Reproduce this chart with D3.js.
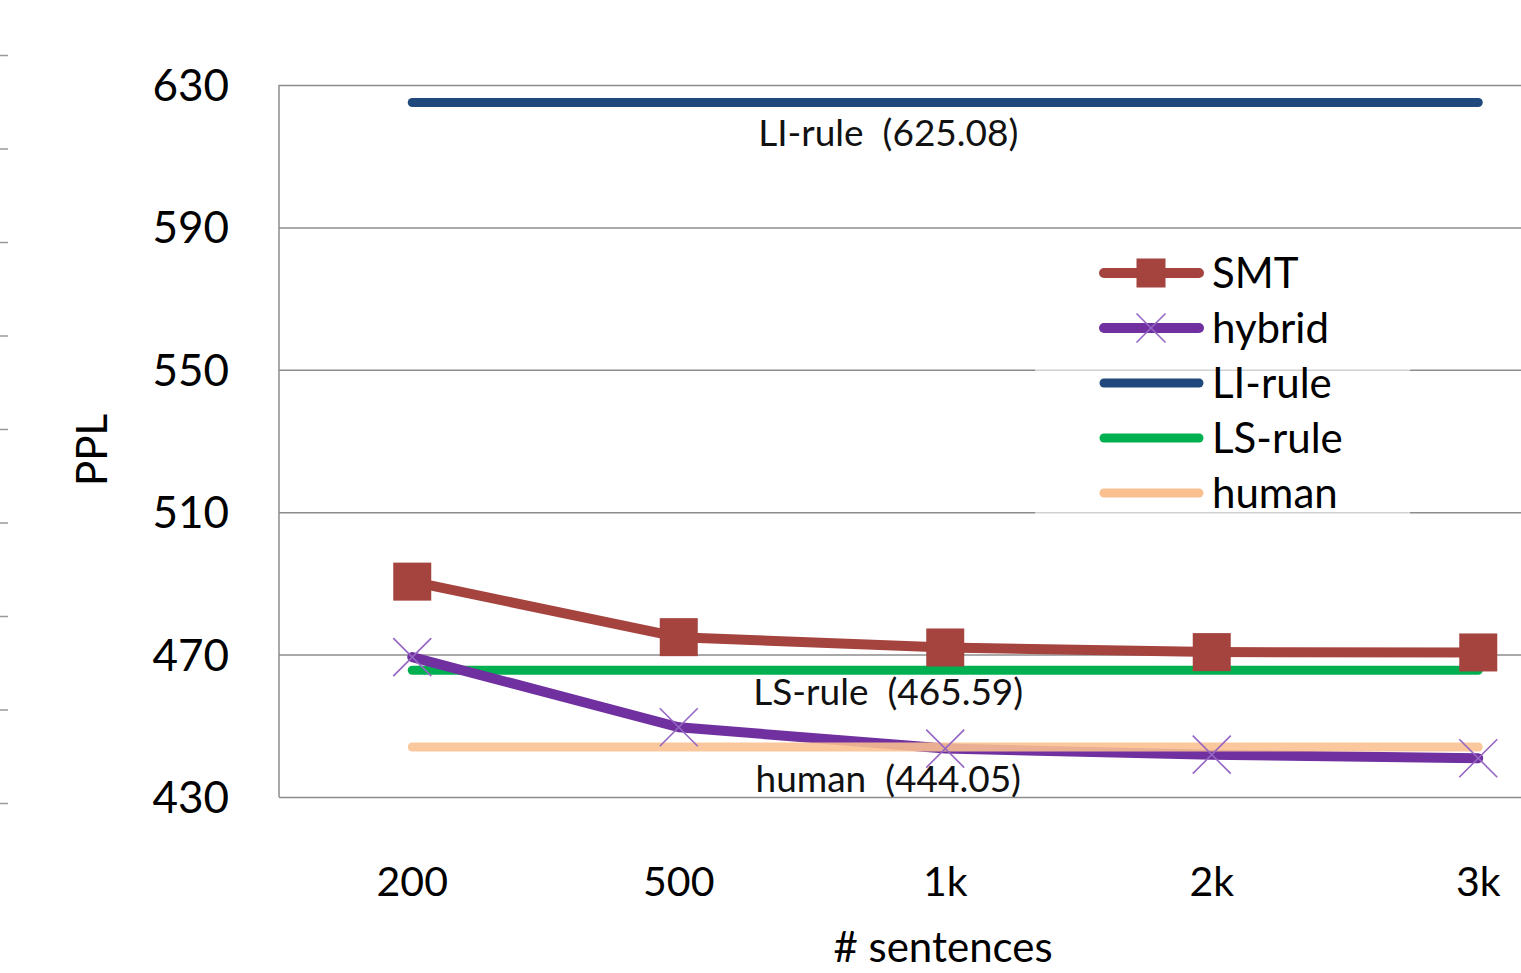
<!DOCTYPE html>
<html>
<head>
<meta charset="utf-8">
<script src="https://cdn.jsdelivr.net/npm/d3@7"></script>
<style>
  html, body { margin: 0; padding: 0; background: #fff; }
  svg { display: block; font-family: Lato, "Noto Sans", sans-serif; }
</style>
</head>
<body>
<svg id="chart" width="1521" height="973"></svg>
<script>
// Perplexity vs. number of training sentences
const categories = ["200", "500", "1k", "2k", "3k"];
const smt    = [490.5, 474.9, 472.0, 470.7, 470.6];
const hybrid = [469.3, 449.6, 443.6, 441.9, 440.9];
const liRule = 625.08;
const lsRule = 465.59;
const human  = 444.05;
const yTicks = [430, 470, 510, 550, 590, 630];

const series = [
  { name: "SMT",     values: smt,                          color: "#A5433E", width: 10, marker: "square" },
  { name: "hybrid",  values: hybrid,                       color: "#7030A0", width: 10, marker: "x" },
  { name: "LI-rule", values: categories.map(() => liRule), color: "#1F497D", width: 9 },
  { name: "LS-rule", values: categories.map(() => lsRule), color: "#00B050", width: 9 },
  { name: "human",   values: categories.map(() => human),  color: "#FAC090", width: 9 }
];

const svg = d3.select("#chart");

const plotLeft = 279, plotTop = 85, plotBottom = 797;
const step = 266.5;

const x = d3.scaleBand()
  .domain(categories)
  .range([plotLeft, plotLeft + step * categories.length])
  .paddingInner(0).paddingOuter(0);
const cx = c => x(c) + x.bandwidth() / 2;

const y = d3.scaleLinear().domain([430, 630]).range([plotBottom, plotTop]);

// faint tick stubs along the left edge
const edge = d3.scaleLinear().domain([0, 8]).range([803, 55]);
svg.append("g")
  .attr("transform", "translate(8,0)")
  .call(d3.axisLeft(edge).tickValues(d3.range(0, 9)).tickSize(8).tickFormat(""))
  .call(g => g.select(".domain").remove())
  .call(g => g.selectAll("line").attr("stroke", "#9a9a9a").attr("stroke-width", 1.5));

// horizontal gridlines
svg.append("g")
  .attr("transform", `translate(${plotLeft},0)`)
  .call(d3.axisLeft(y).tickValues(yTicks).tickSize(-(1521 - plotLeft)).tickFormat(""))
  .call(g => g.select(".domain").remove())
  .call(g => g.selectAll("line").attr("stroke", "#8c8c8c").attr("stroke-width", 1.5));

// left plot border
svg.append("line")
  .attr("x1", plotLeft).attr("x2", plotLeft)
  .attr("y1", plotTop).attr("y2", plotBottom)
  .attr("stroke", "#8c8c8c").attr("stroke-width", 1.5);

// y tick labels
svg.append("g")
  .selectAll("text")
  .data(yTicks)
  .join("text")
  .attr("x", 229)
  .attr("y", d => y(d) + 16)
  .attr("text-anchor", "end")
  .attr("font-size", 44)
  .attr("fill", "#000")
  .text(d => d);

// x tick labels
svg.append("g")
  .selectAll("text")
  .data(categories)
  .join("text")
  .attr("x", d => cx(d))
  .attr("y", 896)
  .attr("text-anchor", "middle")
  .attr("font-size", 41)
  .attr("fill", "#000")
  .text(d => d);

// axis titles
svg.append("text")
  .attr("x", 943).attr("y", 962)
  .attr("text-anchor", "middle")
  .attr("font-size", 42)
  .text("# sentences");

svg.append("text")
  .attr("transform", "translate(107,450) rotate(-90)")
  .attr("text-anchor", "middle")
  .attr("font-size", 42)
  .text("PPL");

// legend backdrop
const legendX = 1100, legendY = 273, legendGap = 55;
svg.append("rect")
  .attr("x", 1035).attr("y", 240)
  .attr("width", 375).attr("height", 280)
  .attr("fill", "#fff").attr("opacity", 0.6);

// series lines
const line = d3.line()
  .x((d, i) => cx(categories[i]))
  .y(d => y(d));

const linesOrder = ["LI-rule", "LS-rule", "SMT", "hybrid", "human"];
linesOrder.forEach(n => {
  const s = series.find(d => d.name === n);
  svg.append("path")
    .datum(s.values)
    .attr("d", line)
    .attr("fill", "none")
    .attr("stroke", s.color)
    .attr("stroke-width", s.width)
    .attr("stroke-linecap", "round")
    .attr("stroke-linejoin", "round")
    .attr("opacity", n === "human" ? 0.88 : 1);
});

// markers
function drawMarker(g, type, px, py, size, color) {
  if (type === "square") {
    g.append("rect")
      .attr("x", px - size / 2).attr("y", py - size / 2)
      .attr("width", size).attr("height", size)
      .attr("fill", color);
  } else if (type === "x") {
    const h = size / 2;
    g.append("path")
      .attr("d", `M${px - h},${py - h}L${px + h},${py + h}M${px - h},${py + h}L${px + h},${py - h}`)
      .attr("stroke", "#9566C4")
      .attr("stroke-width", 1.6)
      .attr("fill", "none");
  }
}

const markerLayer = svg.append("g");
series.filter(s => s.marker).forEach(s => {
  s.values.forEach((v, i) => drawMarker(markerLayer, s.marker, cx(categories[i]), y(v), 38, s.color));
});

// value labels for the constant baselines
const labelX = cx("1k") - 57;
const valueLabels = [
  { text: "LI-rule  (625.08)", value: liRule, dy: 43 },
  { text: "LS-rule  (465.59)", value: lsRule, dy: 35 },
  { text: "human  (444.05)",   value: human,  dy: 45 }
];
svg.append("g")
  .selectAll("text")
  .data(valueLabels)
  .join("text")
  .attr("x", labelX)
  .attr("y", d => y(d.value) + d.dy)
  .attr("text-anchor", "middle")
  .attr("font-size", 37)
  .attr("fill", "#111")
  .attr("xml:space", "preserve")
  .style("white-space", "pre")
  .text(d => d.text);

// legend
const legend = svg.append("g");
series.forEach((s, i) => {
  const ly = legendY + i * legendGap;
  legend.append("line")
    .attr("x1", legendX + 4).attr("x2", legendX + 99)
    .attr("y1", ly).attr("y2", ly)
    .attr("stroke", s.color)
    .attr("stroke-width", s.width)
    .attr("stroke-linecap", "round");
  if (s.marker) drawMarker(legend, s.marker, legendX + 51, ly, 29, s.color);
  legend.append("text")
    .attr("x", 1212)
    .attr("y", ly + 15)
    .attr("font-size", 42)
    .attr("fill", "#000")
    .text(s.name);
});
</script>
</body>
</html>
